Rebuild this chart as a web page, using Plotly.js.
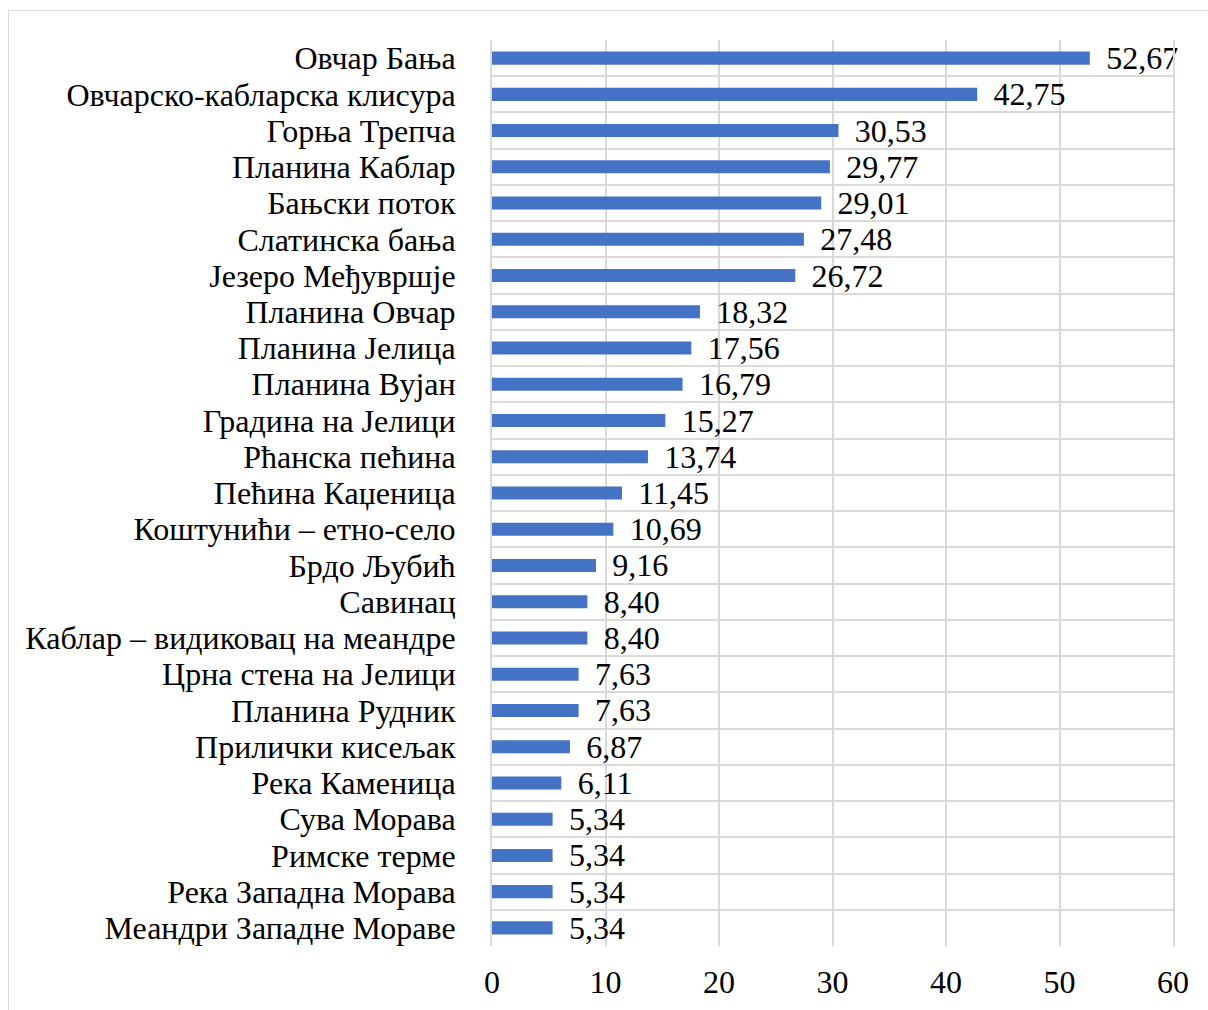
<!DOCTYPE html>
<html>
<head>
<meta charset="utf-8">
<script src="https://cdn.plot.ly/plotly-3.0.1.min.js"></script>
<style>
  html, body { margin: 0; padding: 0; background: #fff; }
  #wrap { position: relative; width: 1208px; height: 1010px; overflow: hidden; }
  #frame { position: absolute; left: 8px; top: 10px; width: 1210px; height: 1010px; border: 1px solid #d9d9d9; box-sizing: border-box; pointer-events: none; }
  #chart { position: absolute; left: 0; top: 0; width: 1208px; height: 1010px; }
</style>
</head>
<body>
<div id="wrap">
  <div id="chart"></div>
  <div id="frame"></div>
</div>
<script>
const categories = [
  "Овчар Бања",
  "Овчарско-кабларска клисура",
  "Горња Трепча",
  "Планина Каблар",
  "Бањски поток",
  "Слатинска бања",
  "Језеро Међувршје",
  "Планина Овчар",
  "Планина Јелица",
  "Планина Вујан",
  "Градина на Јелици",
  "Рћанска пећина",
  "Пећина Каџеница",
  "Коштунићи – етно-село",
  "Брдо Љубић",
  "Савинац",
  "Каблар – видиковац на меандре",
  "Црна стена на Јелици",
  "Планина Рудник",
  "Прилички кисељак",
  "Река Каменица",
  "Сува Морава",
  "Римске терме",
  "Река Западна Морава",
  "Меандри Западне Мораве"
];
const values = [52.67, 42.75, 30.53, 29.77, 29.01, 27.48, 26.72, 18.32, 17.56, 16.79, 15.27, 13.74, 11.45, 10.69, 9.16, 8.40, 8.40, 7.63, 7.63, 6.87, 6.11, 5.34, 5.34, 5.34, 5.34];
const xTicks = [0, 10, 20, 30, 40, 50, 60];

const font = "Liberation Serif, Times New Roman, serif";
const fs = 32;

Plotly.newPlot("chart", [{
  type: "bar",
  orientation: "h",
  y: categories,
  x: values,
  marker: { color: "#4472C4" },
  texttemplate: "\u00a0\u2006%{x:.2f}",
  textposition: "outside",
  constraintext: "none",
  textfont: { family: font, size: fs, color: "#000" },
  cliponaxis: false,
  hoverinfo: "none"
}], {
  width: 1208,
  height: 1010,
  margin: { l: 492, r: 35, t: 40, b: 64 },
  separators: ", ",
  paper_bgcolor: "rgba(0,0,0,0)",
  plot_bgcolor: "#fff",
  bargap: 0.64,
  showlegend: false,
  font: { family: font, size: fs, color: "#000" },
  xaxis: {
    range: [0, 60],
    tickmode: "array",
    tickvals: xTicks,
    ticktext: xTicks.map(String),
    showgrid: true,
    gridcolor: "#d9d9d9",
    gridwidth: 2,
    zeroline: false,
    showline: false,
    ticks: "",
    ticklabelstandoff: 14,
    tickfont: { family: font, size: fs, color: "#000" },
    fixedrange: true
  },
  yaxis: {
    type: "category",
    autorange: "reversed",
    tickmode: "array",
    tickvals: categories,
    ticktext: categories,
    tickson: "boundaries",
    showgrid: true,
    gridcolor: "#d9d9d9",
    gridwidth: 2,
    showline: true,
    linecolor: "#d9d9d9",
    linewidth: 2,
    mirror: true,
    ticks: "",
    ticklabelstandoff: 28,
    tickfont: { family: font, size: fs, color: "#000" },
    fixedrange: true
  }
}, { staticPlot: true });
</script>
</body>
</html>
